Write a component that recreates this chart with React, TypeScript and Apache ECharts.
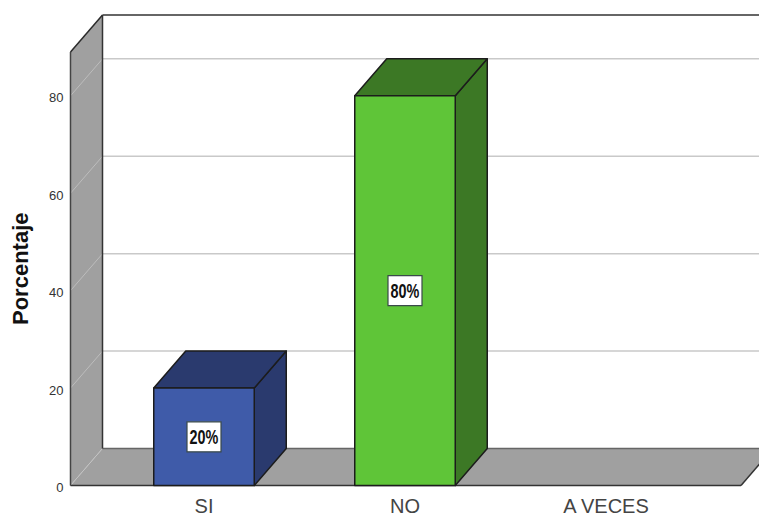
import React, { useEffect, useRef } from "react";
import * as echarts from "echarts";

const categories = ["SI", "NO", "A VECES"];
const percentages = [20, 80, 0];
const tickValues = [0, 20, 40, 60, 80];
const frontColors = ["#3f5ba9", "#5fc538", "#888888"];
const sideColors = ["#2a3a6e", "#3c7825", "#555555"];

const DX = 32;
const DY = 37;
const FONT = "'Liberation Sans', Arial, sans-serif";
const EDGE = "#1c1c1c";
const WALL = "#a0a0a0";
const GRIDLINE = "#c9c9c9";

function renderWalls(params: any, api: any) {
  const cs = params.coordSys;
  const L = cs.x - 33;
  const B = cs.y + cs.height;
  const T = cs.y;
  const R = cs.x + cs.width + 34.5;
  const children: any[] = [];
  const poly = (points: number[][], fill: string, z2 = 0) => ({
    type: "polygon",
    z2,
    shape: { points },
    style: { fill, stroke: "none" },
  });
  const line = (a: number[], b: number[], stroke: string, lineWidth = 1.5, z2 = 5) => ({
    type: "line",
    z2,
    shape: { x1: a[0], y1: a[1], x2: b[0], y2: b[1] },
    style: { stroke, lineWidth },
  });
  children.push(poly([[L + DX, T - DY], [R + DX, T - DY], [R + DX, B - DY], [L + DX, B - DY]], "#ffffff"));
  children.push(poly([[L, T], [L + DX, T - DY], [L + DX, B - DY], [L, B]], WALL, 1));
  children.push(poly([[L, B], [R, B], [R + DX, B - DY], [L + DX, B - DY]], WALL, 1));
  tickValues.forEach((v) => {
    if (v === 0) return;
    const y = api.coord([0, v])[1];
    children.push(line([L, y], [L + DX, y - DY], "#bdbdbd", 1, 2));
    children.push(line([L + DX, y - DY], [R + DX, y - DY], GRIDLINE, 1.5, 2));
  });
  children.push(line([L, B], [L + DX, B - DY], "#c4c4c4", 1, 2));
  children.push(line([L + DX, B - DY], [R + DX, B - DY], "#666666", 1.5));
  children.push(line([L, T], [L + DX, T - DY], "#2a2a2a"));
  children.push(line([L + DX, T - DY], [R + DX, T - DY], "#333333"));
  children.push(line([L + DX, T - DY], [L + DX, B - DY], "#333333"));
  children.push(line([L, T], [L, B], "#444444"));
  children.push(line([L, B], [R, B], "#333333"));
  children.push(line([R, B], [R + DX, B - DY], "#333333"));
  return { type: "group", children };
}

function renderBars(params: any, api: any) {
  const idx = api.value(0);
  const val = api.value(1);
  if (!val) return { type: "group", children: [] };
  const top = api.coord([idx, val]);
  const base = api.coord([idx, 0]);
  const w = api.size([1, 0])[0] * 0.5;
  const x0 = top[0] - w / 2;
  const x1 = top[0] + w / 2;
  const yT = top[1];
  const yB = base[1];
  const front = frontColors[idx];
  const side = sideColors[idx];
  const stroke = { stroke: EDGE, lineWidth: 1.5, lineJoin: "round" };
  const cy = (yT + yB) / 2;
  return {
    type: "group",
    children: [
      {
        type: "polygon",
        shape: { points: [[x1, yT], [x1 + DX, yT - DY], [x1 + DX, yB - DY], [x1, yB]] },
        style: { fill: side, ...stroke },
      },
      {
        type: "polygon",
        shape: { points: [[x0, yT], [x0 + DX, yT - DY], [x1 + DX, yT - DY], [x1, yT]] },
        style: { fill: side, ...stroke },
      },
      {
        type: "rect",
        shape: { x: x0, y: yT, width: w, height: yB - yT },
        style: { fill: front, ...stroke },
      },
      {
        type: "rect",
        shape: { x: top[0] - 17, y: cy - 15, width: 34, height: 30 },
        style: { fill: "#ffffff", stroke: "#3a4a4a", lineWidth: 1.2 },
      },
      {
        type: "text",
        x: top[0],
        y: cy,
        scaleX: 0.72,
        style: {
          text: val + "%",
          align: "center",
          verticalAlign: "middle",
          fill: "#111111",
          font: "bold 20px " + FONT,
        },
      },
    ],
  };
}

export default function App() {
  const ref = useRef<HTMLDivElement>(null);
  useEffect(() => {
    document.body.style.margin = "0";
    const chart = echarts.init(ref.current!, undefined, { renderer: "svg" });
    chart.setOption({
      animation: false,
      backgroundColor: "#ffffff",
      grid: { left: 103.5, width: 603, top: 52, height: 433.5, outerBoundsMode: "none" },
      xAxis: {
        type: "category",
        data: categories,
        axisLine: { show: false },
        axisTick: { show: false },
        axisLabel: { color: "#444444", fontSize: 20, lineHeight: 16, fontFamily: FONT, margin: 12 },
        z: 10,
      },
      yAxis: {
        type: "value",
        min: 0,
        max: 89,
        offset: 33,
        name: "Porcentaje",
        nameLocation: "middle",
        nameRotate: 90,
        nameGap: 39,
        nameTextStyle: { color: "#111111", fontSize: 22, fontWeight: "bold", fontFamily: FONT },
        axisLine: { show: false },
        axisTick: { show: false },
        splitLine: { show: false },
        axisLabel: {
          customValues: tickValues,
          color: "#333333",
          fontSize: 13,
          fontFamily: FONT,
          margin: 7,
          verticalAlign: "top",
          lineHeight: 4,
        },
      },
      series: [
        {
          type: "custom",
          coordinateSystem: "cartesian2d",
          data: [[0, 0]],
          renderItem: renderWalls,
          clip: false,
          silent: true,
          z: 1,
        },
        {
          type: "custom",
          coordinateSystem: "cartesian2d",
          data: percentages.map((v, i) => [i, v]),
          encode: { x: 0, y: 1 },
          renderItem: renderBars,
          clip: false,
          z: 2,
        },
      ],
    });
    return () => chart.dispose();
  }, []);
  return <div ref={ref} style={{ width: 759, height: 515 }} />;
}
